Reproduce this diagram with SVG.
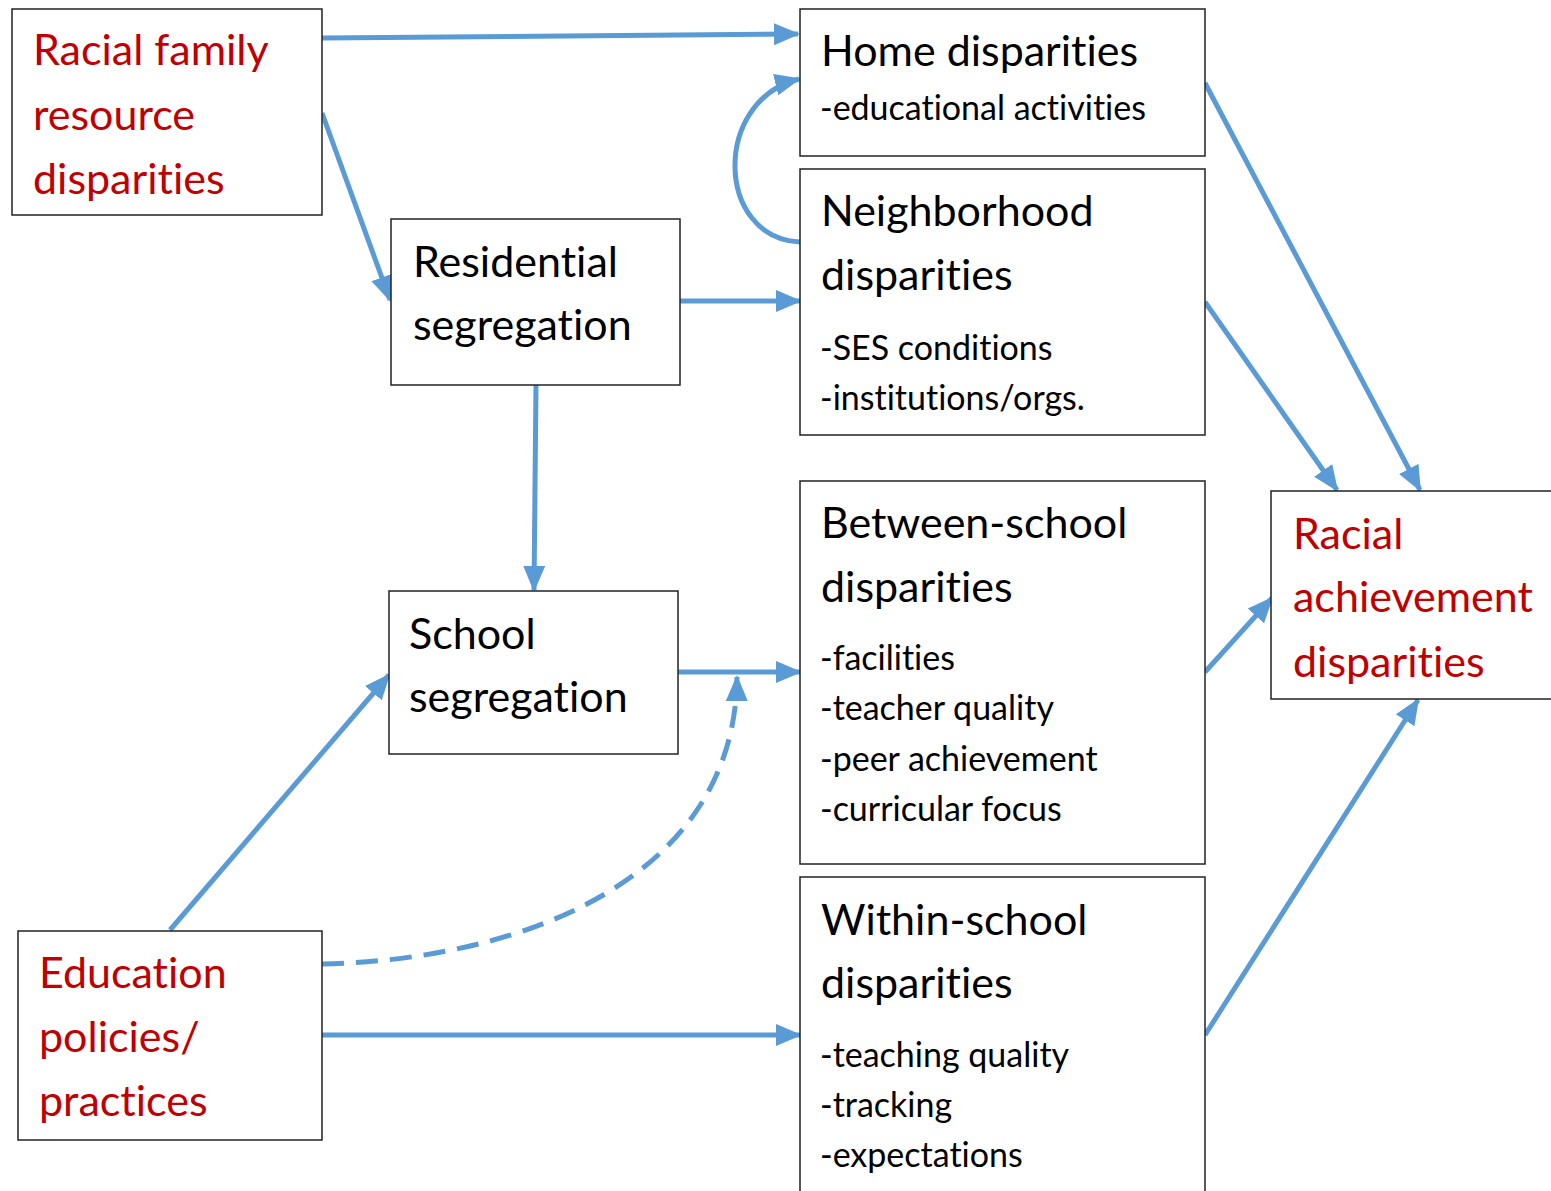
<svg xmlns="http://www.w3.org/2000/svg" width="1551" height="1191" viewBox="0 0 1551 1191">
<style>
text{font-variant-ligatures:none;font-feature-settings:"liga" 0,"clig" 0}
.box{fill:#fff;stroke:#222;stroke-width:1.5}
.big{font-family:Lato,"Liberation Sans",sans-serif;font-size:43px;fill:#000}
.red{fill:#C00000}
.small{font-family:Lato,"Liberation Sans",sans-serif;font-size:34px;fill:#000}
.c{fill:none;stroke:#5B9BD5;stroke-width:5}
.d{stroke-dasharray:22 12}
</style>
<defs>
<marker id="ah" markerUnits="userSpaceOnUse" markerWidth="26" markerHeight="26" viewBox="0 0 26 26" refX="24" refY="13" orient="auto">
<path d="M0,2 L26,13 L0,24 Z" fill="#5B9BD5"/>
</marker>
</defs>
<rect width="1551" height="1191" fill="#fff"/>
<g id="connectors">
<path class="c" d="M322,38 L798,34" marker-end="url(#ah)"/>
<path class="c" d="M322,113 L390,300" marker-end="url(#ah)"/>
<path class="c" d="M680,301 L800,301" marker-end="url(#ah)"/>
<path class="c" d="M536,385 L534,590" marker-end="url(#ah)"/>
<path class="c" d="M800,242 C715,238 712,100 799,79" marker-end="url(#ah)"/>
<path class="c" d="M678,672 L800,672" marker-end="url(#ah)"/>
<path class="c" d="M170,930 L389,675" marker-end="url(#ah)"/>
<path class="c d" d="M322,964 C520,960 735,880 737,677" marker-end="url(#ah)"/>
<path class="c" d="M322,1035 L800,1035" marker-end="url(#ah)"/>
<path class="c" d="M1205,83 L1420,490" marker-end="url(#ah)"/>
<path class="c" d="M1205,302 L1337,490" marker-end="url(#ah)"/>
<path class="c" d="M1205,672 L1272,598" marker-end="url(#ah)"/>
<path class="c" d="M1205,1035 L1418,700" marker-end="url(#ah)"/>
</g>
<g id="racial-family">
<rect class="box" x="12" y="9" width="310" height="206"/>
<text class="big red" x="33" y="65">Racial family</text>
<text class="big red" x="33" y="130">resource</text>
<text class="big red" x="33" y="194">disparities</text>
</g>
<g id="residential">
<rect class="box" x="391" y="219" width="289" height="166"/>
<text class="big" x="413" y="277">Residential</text>
<text class="big" x="413" y="340">segregation</text>
</g>
<g id="school">
<rect class="box" x="389" y="591" width="289" height="163"/>
<text class="big" x="409" y="649">School</text>
<text class="big" x="409" y="712">segregation</text>
</g>
<g id="education">
<rect class="box" x="18" y="931" width="304" height="209"/>
<text class="big red" x="39" y="988">Education</text>
<text class="big red" x="39" y="1052">policies/</text>
<text class="big red" x="39" y="1116">practices</text>
</g>
<g id="home">
<rect class="box" x="800" y="9" width="405" height="147"/>
<text class="big" x="821" y="66">Home disparities</text>
<text class="small" x="820" y="120">-educational activities</text>
</g>
<g id="neighborhood">
<rect class="box" x="800" y="169" width="405" height="266"/>
<text class="big" x="821" y="226">Neighborhood</text>
<text class="big" x="821" y="290">disparities</text>
<text class="small" x="820" y="360">-SES conditions</text>
<text class="small" x="820" y="410">-institutions/orgs.</text>
</g>
<g id="between">
<rect class="box" x="800" y="481" width="405" height="383"/>
<text class="big" x="821" y="538">Between-school</text>
<text class="big" x="821" y="602">disparities</text>
<text class="small" x="820" y="670">-facilities</text>
<text class="small" x="820" y="720">-teacher quality</text>
<text class="small" x="820" y="771">-peer achievement</text>
<text class="small" x="820" y="821">-curricular focus</text>
</g>
<g id="within">
<rect class="box" x="800" y="877" width="405" height="330"/>
<text class="big" x="821" y="935">Within-school</text>
<text class="big" x="821" y="998">disparities</text>
<text class="small" x="820" y="1067">-teaching quality</text>
<text class="small" x="820" y="1117">-tracking</text>
<text class="small" x="820" y="1167">-expectations</text>
</g>
<g id="achievement">
<rect class="box" x="1271" y="491" width="290" height="208"/>
<text class="big red" x="1293" y="549">Racial</text>
<text class="big red" x="1293" y="612">achievement</text>
<text class="big red" x="1293" y="677">disparities</text>
</g>
</svg>
